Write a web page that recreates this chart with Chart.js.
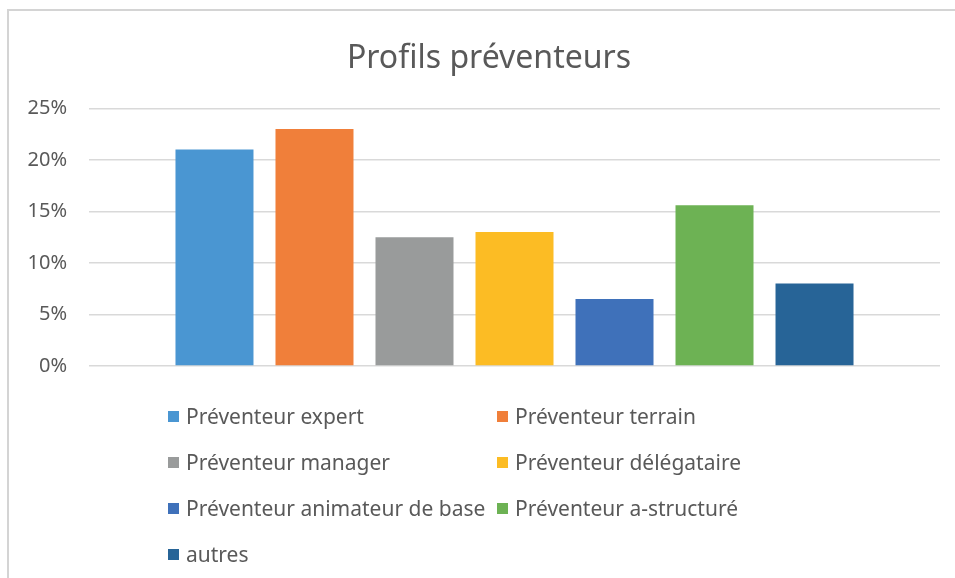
<!DOCTYPE html>
<html>
<head>
<meta charset="utf-8">
<script src="https://cdn.jsdelivr.net/npm/chart.js@4/dist/chart.umd.min.js"></script>
<style>
  html, body { margin: 0; padding: 0; background: #fff; }
  #wrap { position: relative; width: 955px; height: 578px; overflow: hidden; }
  #frame { position: absolute; left: 7px; top: 9px; right: 0; bottom: 0;
           border-top: 2px solid #d4d4d4; border-left: 2px solid #d4d4d4; }
  canvas { position: absolute; left: 0; top: 0; }
  #legend { position: absolute; left: 168px; top: 393px;
            display: grid; grid-template-columns: 329px auto; grid-auto-rows: 46px;
            font-family: "Noto Sans", sans-serif; font-size: 21px; color: #595959; }
  #legend div { display: flex; align-items: center; white-space: nowrap; }
  #legend span.box { display: inline-block; width: 11px; height: 11px; margin-right: 7px; }
</style>
</head>
<body>
<div id="wrap">
  <div id="frame"></div>
  <canvas id="chart" width="955" height="578"></canvas>
  <div id="legend"></div>
</div>
<script>
const seriesNames = ['Préventeur expert', 'Préventeur terrain', 'Préventeur manager',
  'Préventeur délégataire', 'Préventeur animateur de base', 'Préventeur a-structuré', 'autres'];
const seriesValues = [21, 23, 12.5, 13, 6.5, 15.6, 8];
const seriesColors = ['#4a96d2', '#f07f3a', '#999b9b', '#fcbc24', '#3f71ba', '#6db254', '#276497'];

// the original title is centred on the whole frame, a bit right of the plot centre
const shiftTitle = {
  id: 'shiftTitle',
  afterLayout(c) { if (c.titleBlock) c.titleBlock.left += 38; }
};

const ctx = document.getElementById('chart').getContext('2d');
const chart = new Chart(ctx, {
  type: 'bar',
  data: {
    labels: [''],
    datasets: seriesNames.map((name, i) => ({
      label: name,
      data: [seriesValues[i]],
      backgroundColor: seriesColors[i],
      categoryPercentage: 0.8226,
      barPercentage: 0.78
    }))
  },
  options: {
    responsive: false,
    animation: false,
    layout: { padding: { left: 0, right: 15, top: 0, bottom: 212 } },
    plugins: {
      legend: { display: false },
      tooltip: { enabled: false },
      title: {
        display: true,
        text: 'Profils préventeurs',
        color: '#595959',
        font: { family: 'Noto Sans', size: 32, weight: 'normal' },
        padding: { top: 40, bottom: 30 }
      }
    },
    scales: {
      x: { display: false },
      y: {
        min: 0, max: 25,
        border: { display: false },
        grid: { color: '#d9d9d9', lineWidth: 1.5, drawTicks: false },
        ticks: {
          stepSize: 5,
          padding: 22,
          color: '#595959',
          font: { family: 'Noto Sans', size: 20 },
          callback: v => v + '%'
        },
        afterFit: s => { s.width = 89; }
      }
    }
  },
  plugins: [shiftTitle]
});

// legend in two columns, as in the original
const legendEl = document.getElementById('legend');
chart.data.datasets.forEach(ds => {
  const item = document.createElement('div');
  const box = document.createElement('span');
  box.className = 'box';
  box.style.background = ds.backgroundColor;
  item.appendChild(box);
  item.appendChild(document.createTextNode(ds.label));
  legendEl.appendChild(item);
});
</script>
</body>
</html>
